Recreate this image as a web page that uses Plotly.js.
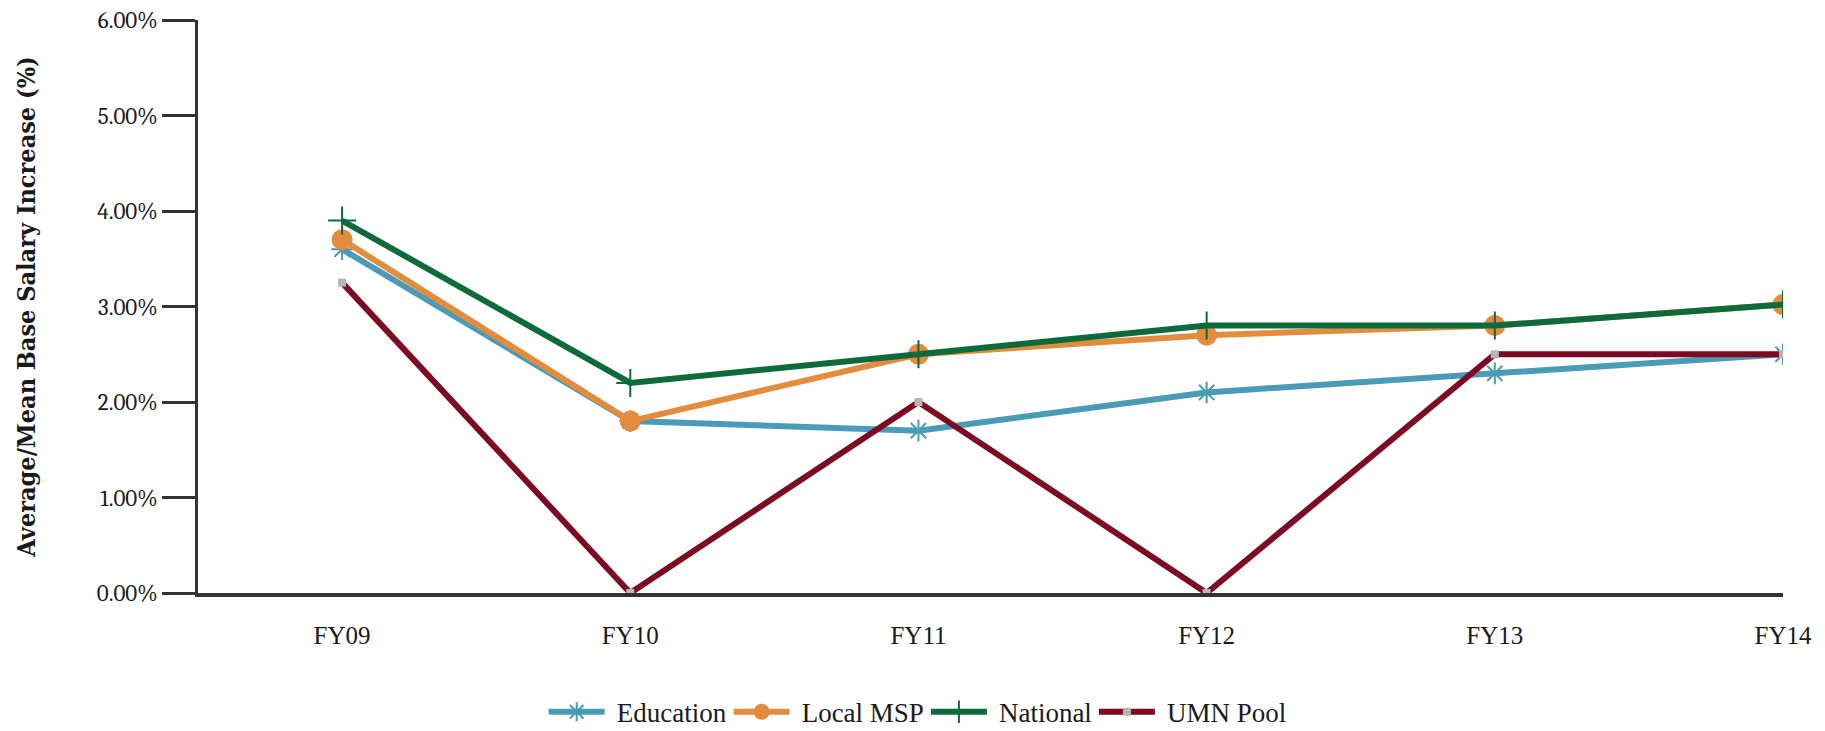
<!DOCTYPE html>
<html>
<head>
<meta charset="utf-8">
<script src="https://cdn.plot.ly/plotly-3.0.1.min.js"></script>
<style>html,body{margin:0;padding:0;background:#fff;}#chart{width:1825px;height:731px;}</style>
</head>
<body>
<div id="chart"></div>
<script>
var categories = ["FY09", "FY10", "FY11", "FY12", "FY13", "FY14"];
var education = [3.60, 1.80, 1.70, 2.10, 2.30, 2.50];
var localMSP = [3.70, 1.80, 2.50, 2.70, 2.80, 3.02];
var national = [3.90, 2.20, 2.50, 2.80, 2.80, 3.02];
var umnPool = [3.25, 0.00, 2.00, 0.00, 2.50, 2.50];
var yTickVals = [0, 1, 2, 3, 4, 5, 6];
var yTickText = ["0.00%", "1.00%", "2.00%", "3.00%", "4.00%", "5.00%", "6.00%"];

var serif = "Cambria, 'DejaVu Serif', serif";
var times = "'Liberation Serif', 'Times New Roman', serif";
var condensed = "'DejaVu Serif Condensed', 'Liberation Serif', serif";

var traces = [
  {name: "Education", x: categories, y: education, type: "scatter", mode: "lines+markers",
   line: {color: "#4a9bb6", width: 6},
   marker: {symbol: "asterisk-open", size: 18, color: "#4a9bb6", line: {width: 2, color: "#4a9bb6"}}},
  {name: "Local MSP", x: categories, y: localMSP, type: "scatter", mode: "lines+markers",
   line: {color: "#e38c3e", width: 6},
   marker: {symbol: "circle", size: 21, color: "#e38c3e"}},
  {name: "National", x: categories, y: national, type: "scatter", mode: "lines+markers",
   line: {color: "#0d6a3a", width: 6},
   marker: {symbol: "cross-thin-open", size: 20, color: "#0d6a3a", line: {width: 2, color: "#0d6a3a"}}},
  {name: "UMN Pool", x: categories, y: umnPool, type: "scatter", mode: "lines+markers",
   line: {color: "#7b0a22", width: 6},
   marker: {symbol: "square", size: 8, color: "#b5b5b5"}}
];

var layout = {
  width: 1825, height: 731,
  margin: {l: 198, r: 42, t: 20, b: 138, autoexpand: false},
  paper_bgcolor: "#ffffff", plot_bgcolor: "#ffffff",
  showlegend: true,
  legend: {orientation: "h", x: 0.455, xanchor: "center", y: -0.208, yanchor: "middle",
           font: {family: times, size: 27, color: "#1a1a1a"}, itemwidth: 60, tracegroupgap: 0},
  xaxis: {type: "category", range: [-0.5, 5.0], showgrid: false, zeroline: false,
          showline: true, linecolor: "#333333", linewidth: 4,
          ticks: "outside", ticklen: 17, tickcolor: "rgba(0,0,0,0)",
          tickfont: {family: times, size: 25, color: "#1a1a1a"}},
  yaxis: {range: [0, 6], tickvals: yTickVals, ticktext: yTickText, showgrid: false, zeroline: false,
          showline: true, linecolor: "#333333", linewidth: 2.5,
          ticks: "outside", ticklen: 33, tickwidth: 2.5, tickcolor: "#333333",
          tickfont: {family: serif, size: 23, color: "#1a1a1a"},
          title: {text: "Average/Mean Base Salary Increase (%)", standoff: 55,
                  font: {family: condensed, size: 25, color: "#1a1a1a", weight: "bold"}}}
};

Plotly.newPlot("chart", traces, layout, {displayModeBar: false, responsive: false}).then(function (gd) {
  // lengthen legend line samples to match the reference
  var items = gd.querySelectorAll(".legend .traces");
  items.forEach(function (it) {
    var lines = it.querySelectorAll(".legendlines path");
    lines.forEach(function (p) { p.setAttribute("d", "M2,0h56"); });
    var pts = it.querySelectorAll(".legendpoints path");
    pts.forEach(function (p) { p.setAttribute("transform", "translate(30,0)"); });
  });
});
</script>
</body>
</html>
